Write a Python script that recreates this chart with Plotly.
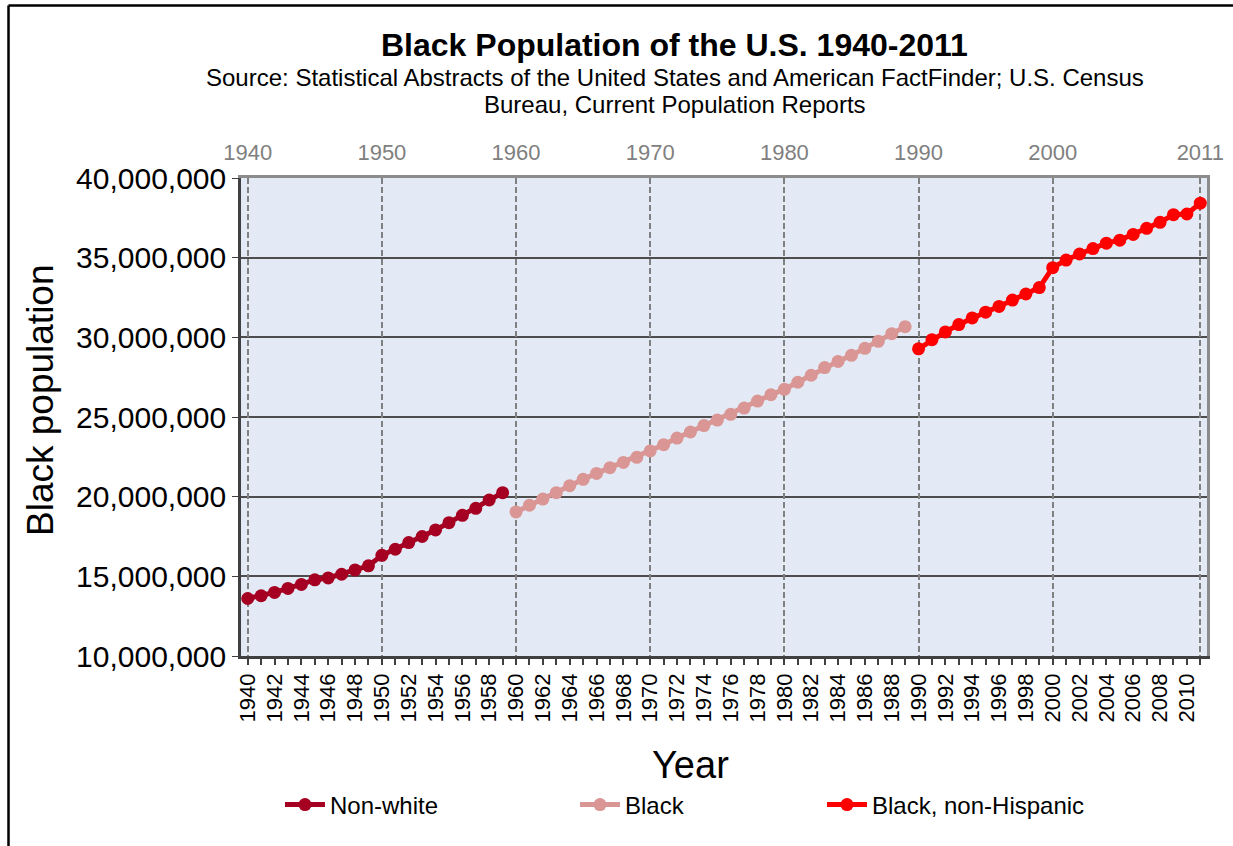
import plotly.graph_objects as go

# values (persons)
years_nonwhite = list(range(1940, 1960))
pop_nonwhite = [13610000, 13780000, 13990000, 14240000, 14490000, 14780000, 14900000, 15130000,
                15400000, 15660000, 16320000, 16700000, 17120000, 17500000, 17910000, 18370000,
                18830000, 19270000, 19790000, 20250000]

years_black = list(range(1960, 1990))
pop_black = [19040000, 19460000, 19850000, 20250000, 20690000, 21090000, 21460000, 21820000,
             22150000, 22470000, 22870000, 23260000, 23680000, 24060000, 24460000, 24810000,
             25170000, 25560000, 26000000, 26400000, 26740000, 27180000, 27620000, 28100000,
             28490000, 28870000, 29310000, 29750000, 30230000, 30670000]

years_bnh = list(range(1990, 2012))
pop_bnh = [29280000, 29850000, 30340000, 30800000, 31220000, 31580000, 31940000, 32340000,
           32720000, 33120000, 34370000, 34850000, 35230000, 35570000, 35910000, 36100000,
           36460000, 36840000, 37220000, 37700000, 37740000, 38420000]

bottom_ticks = list(range(1940, 2011, 2))
top_ticks = [1940, 1950, 1960, 1970, 1980, 1990, 2000, 2011]

FONT = "Liberation Sans, Arial, sans-serif"

# plot area in pixels
L, R, T, B = 241, 1207, 178, 656
W, H = R - L, B - T


def px(x):
    return (x - L) / W


def py(y):
    return (B - y) / H


fig = go.Figure()

# the last series sits on the overlay axes so the top axis and right border get drawn
series = [
    ("Non-white", years_nonwhite, pop_nonwhite, "#A50021", "legend", "x", "y"),
    ("Black", years_black, pop_black, "#DA9694", "legend2", "x", "y"),
    ("Black, non-Hispanic", years_bnh, pop_bnh, "#FF0000", "legend3", "x2", "y2"),
]
for name, xs, ys, color, leg, xa, ya in series:
    fig.add_trace(go.Scatter(
        x=xs, y=ys, name=name, mode="lines+markers",
        line=dict(color=color, width=5),
        marker=dict(color=color, size=13),
        legend=leg, xaxis=xa, yaxis=ya,
    ))

xrange = [1939.5, 2011.5]
yrange = [10000000, 40000000]

legend_common = dict(orientation="h", yanchor="middle", xanchor="left", y=py(805),
                     itemwidth=40,
                     font=dict(family=FONT, size=24, color="black"),
                     bgcolor="rgba(0,0,0,0)")

fig.update_layout(
    width=1233, height=846,
    margin=dict(l=L, r=1233 - R, t=T, b=846 - B, autoexpand=False),
    paper_bgcolor="white",
    plot_bgcolor="#E4EAF5",
    font=dict(family=FONT, color="black"),
    showlegend=True,
    xaxis=dict(
        range=xrange, tickmode="array", tickvals=bottom_ticks, tickangle=-90,
        ticks="outside", ticklen=6, tickcolor="#404040", tickwidth=1.5,
        minor=dict(ticks="outside", ticklen=6, tickcolor="#404040", tickwidth=1.5, dtick=1, tick0=1940),
        tickfont=dict(size=22, color="black"),
        showgrid=False, zeroline=False,
        showline=True, linecolor="#404040", linewidth=2.5,
    ),
    xaxis2=dict(
        range=xrange, overlaying="x", side="top", anchor="y2",
        tickmode="array", tickvals=top_ticks, ticks="", ticklabelstandoff=6,
        tickfont=dict(size=22, color="#808080"),
        showgrid=True, gridcolor="#808080", gridwidth=2, griddash="6px,3px",
        zeroline=False, showline=True, linecolor="#8C8C8C", linewidth=3,
    ),
    yaxis=dict(
        range=yrange, tickmode="array", tickvals=list(range(10000000, 40000001, 5000000)),
        tickformat=",d", ticks="outside", ticklen=6, tickcolor="#404040",
        tickfont=dict(size=30, color="black"),
        showgrid=True, gridcolor="#4D4D4D", gridwidth=1.5, zeroline=False,
        showline=True, linecolor="#404040", linewidth=2.5,
    ),
    yaxis2=dict(
        range=yrange, overlaying="y", side="right", anchor="x2",
        showticklabels=False, ticks="", showgrid=False, zeroline=False,
        showline=True, linecolor="#8C8C8C", linewidth=3,
    ),
    legend=dict(x=px(280), **legend_common),
    legend2=dict(x=px(575), **legend_common),
    legend3=dict(x=px(822), **legend_common),
    annotations=[
        dict(text="<b>Black Population of the U.S. 1940-2011</b>", x=px(674), y=py(45),
             xref="paper", yref="paper", showarrow=False, xanchor="center", yanchor="middle",
             font=dict(size=32, color="black")),
        dict(text="Source: Statistical Abstracts of the United States and American FactFinder; U.S. Census",
             x=px(675), y=py(77), xref="paper", yref="paper", showarrow=False,
             xanchor="center", yanchor="middle", font=dict(size=24, color="black")),
        dict(text="Bureau, Current Population Reports",
             x=px(675), y=py(104), xref="paper", yref="paper", showarrow=False,
             xanchor="center", yanchor="middle", font=dict(size=24, color="black")),
        dict(text="Year", x=px(690), y=py(765), xref="paper", yref="paper", showarrow=False,
             xanchor="center", yanchor="middle", font=dict(size=38, color="black")),
        dict(text="Black population", x=px(40), y=py(400), xref="paper", yref="paper",
             showarrow=False, textangle=-90, xanchor="center", yanchor="middle",
             font=dict(size=37, color="black")),
    ],
    shapes=[
        dict(type="line", xref="paper", yref="paper", x0=px(8.5), x1=px(1240), y0=py(5.5), y1=py(5.5),
             line=dict(color="black", width=2.5)),
        dict(type="line", xref="paper", yref="paper", x0=px(8.5), x1=px(8.5), y0=py(5.5), y1=py(850),
             line=dict(color="black", width=2.5)),
    ],
)

fig.write_html("out.html", config={"displayModeBar": False},
               post_script="document.body.style.margin='0';")
